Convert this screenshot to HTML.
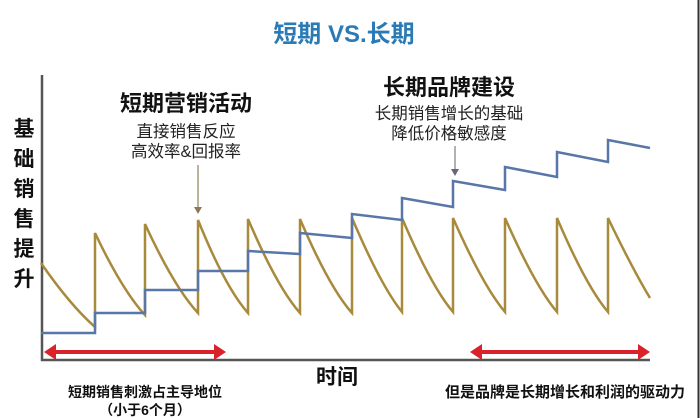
<!DOCTYPE html>
<html><head><meta charset="utf-8"><style>
html,body{margin:0;padding:0;background:#fff}
svg{display:block}
text{font-family:"Liberation Sans","Noto Sans CJK SC",sans-serif}
</style></head><body>
<svg width="700" height="418" viewBox="0 0 700 418" xmlns="http://www.w3.org/2000/svg">
<rect width="700" height="418" fill="#fff"/>
<line x1="698.5" y1="0" x2="698.5" y2="418" stroke="#333" stroke-width="2"/>
<text x="344" y="42" text-anchor="middle" font-size="24" font-weight="bold" fill="#2a7ab5">短期 VS.长期</text>
<line x1="42" y1="75" x2="42" y2="361" stroke="#555" stroke-width="2.5"/>
<line x1="41" y1="360" x2="650" y2="360" stroke="#555" stroke-width="2.5"/>
<g font-size="21" font-weight="bold" fill="#111" text-anchor="middle">
<text x="24" y="136">基</text><text x="24" y="166">础</text><text x="24" y="196">销</text>
<text x="24" y="226">售</text><text x="24" y="256">提</text><text x="24" y="286">升</text>
</g>
<text x="186" y="111" text-anchor="middle" font-size="22" font-weight="bold" fill="#111">短期营销活动</text>
<text x="186" y="137" text-anchor="middle" font-size="16.5" fill="#222">直接销售反应</text>
<text x="186" y="157" text-anchor="middle" font-size="16.5" fill="#222">高效率&amp;回报率</text>
<text x="449" y="95" text-anchor="middle" font-size="22" font-weight="bold" fill="#111">长期品牌建设</text>
<text x="449" y="119" text-anchor="middle" font-size="16.5" fill="#222">长期销售增长的基础</text>
<text x="449" y="139" text-anchor="middle" font-size="16.5" fill="#222">降低价格敏感度</text>
<line x1="198" y1="165" x2="198" y2="208" stroke="#a89a7a" stroke-width="1.5"/>
<polygon points="194,207 202,207 198,214" fill="#8a7a5a"/>
<line x1="455" y1="146" x2="455" y2="170" stroke="#999" stroke-width="1.5"/>
<polygon points="451,169 459,169 455,176" fill="#667"/>
<path d="M41,263 Q70,305 95,327 L95,233 Q122,290 145,315 L145,224 Q174,287 198,313 L198,220 Q225,287 248,313 L248,219 Q277,287 300,313 L300,219 Q329,287 352,313 L352,218 Q381,286 402,312 L402,218 Q431,286 453,312 L453,218 Q483,286 505,312 L505,218 Q535,286 557,312 L557,218 Q586,286 608,312 L608,218 Q632,268 650,298" fill="none" stroke="#a88a3c" stroke-width="2.5"/>
<path d="M41,333 H95 V313 H145 V290 H198 V271 H248 V251 L300,254 V233 L352,238 V214 L402,220 V198 L453,207 V181 L505,190 V167 L557,177 V152 L608,162 V140 L650,148" fill="none" stroke="#5876a8" stroke-width="2.5"/>
<g fill="#d9222a" stroke="#d9222a">
<line x1="52" y1="352" x2="218" y2="352" stroke-width="4"/>
<polygon points="44,352 56,344 56,360" stroke="none"/>
<polygon points="226,352 214,344 214,360" stroke="none"/>
<line x1="478" y1="352" x2="642" y2="352" stroke-width="4"/>
<polygon points="470,352 482,344 482,360" stroke="none"/>
<polygon points="650,352 638,344 638,360" stroke="none"/>
</g>
<text x="337" y="384" text-anchor="middle" font-size="21" font-weight="bold" fill="#111">时间</text>
<text x="145" y="397" text-anchor="middle" font-size="14" font-weight="bold" fill="#111">短期销售刺激占主导地位</text>
<text x="145" y="415" text-anchor="middle" font-size="14" font-weight="bold" fill="#111">（小于6个月）</text>
<text x="565" y="397" text-anchor="middle" font-size="15" font-weight="bold" fill="#111">但是品牌是长期增长和利润的驱动力</text>
</svg>
</body></html>
